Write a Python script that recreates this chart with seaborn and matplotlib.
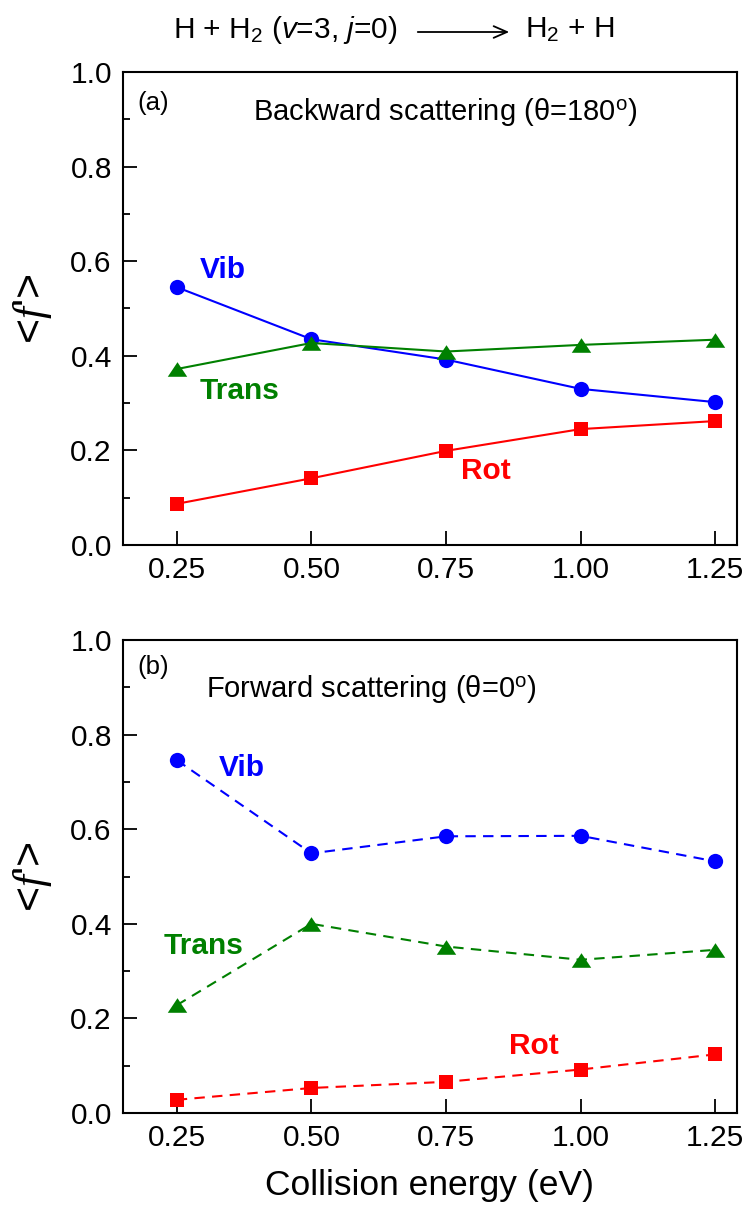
import numpy as np
import pandas as pd
import seaborn as sns
import matplotlib
matplotlib.use("Agg")
import matplotlib.pyplot as plt
from matplotlib.ticker import MultipleLocator

# Collision energies (eV)
energy = [0.25, 0.50, 0.75, 1.00, 1.25]

# (a) backward scattering, theta = 180 deg: average energy fractions <f'>
back_vib = [0.545, 0.435, 0.392, 0.330, 0.302]
back_trans = [0.372, 0.427, 0.409, 0.423, 0.434]
back_rot = [0.087, 0.141, 0.199, 0.245, 0.262]

# (b) forward scattering, theta = 0 deg
fwd_vib = [0.746, 0.549, 0.585, 0.586, 0.532]
fwd_trans = [0.228, 0.400, 0.352, 0.324, 0.345]
fwd_rot = [0.028, 0.053, 0.066, 0.092, 0.124]

xticks = [0.25, 0.50, 0.75, 1.00, 1.25]
xticklabels = ["0.25", "0.50", "0.75", "1.00", "1.25"]

sns.set_style("ticks")
plt.rcParams["font.family"] = ["Liberation Sans", "DejaVu Sans"]
plt.rcParams["mathtext.fontset"] = "custom"
plt.rcParams["mathtext.rm"] = "Liberation Sans"
plt.rcParams["mathtext.sf"] = "Liberation Sans:italic"
plt.rcParams["mathtext.it"] = "Liberation Serif:italic"
plt.rcParams["mathtext.bf"] = "Liberation Sans:bold"
for key in ("text.color", "axes.labelcolor", "xtick.color", "ytick.color",
            "axes.edgecolor"):
    plt.rcParams[key] = "black"

BLUE = "#0000ff"
GREEN = "#008000"
RED = "#ff0000"

tri = [(0, 0.75), (-1, -0.75), (1, -0.75), (0, 0.75)]

fig = plt.figure(figsize=(7.45, 12.13), dpi=100)
ax_a = fig.add_axes([0.165, 0.5507, 0.824, 0.390])
ax_b = fig.add_axes([0.165, 0.0824, 0.824, 0.390])


def draw_panel(ax, vib, trans, rot, ls):
    df = pd.DataFrame({"E": energy, "vib": vib, "trans": trans, "rot": rot})
    common = dict(ax=ax, linewidth=1.5, linestyle=ls, legend=False)
    sns.lineplot(data=df, x="E", y="vib", color=BLUE, marker="o",
                 markersize=11, markeredgewidth=0, **common)
    sns.lineplot(data=df, x="E", y="trans", color=GREEN, marker=tri,
                 markersize=14, markeredgewidth=0, **common)
    sns.lineplot(data=df, x="E", y="rot", color=RED, marker="s",
                 markersize=10.5, markeredgewidth=0, **common)
    for line in ax.get_lines():
        if ls == "--":
            line.set_dashes([5, 3.5])
    ax.set_xlim(0.15, 1.29)
    ax.set_ylim(0.0, 1.0)
    ax.set_xticks(xticks)
    ax.set_xticklabels(xticklabels)
    ax.set_yticks([0.0, 0.2, 0.4, 0.6, 0.8, 1.0])
    ax.set_yticklabels(["0.0", "0.2", "0.4", "0.6", "0.8", "1.0"])
    ax.yaxis.set_minor_locator(MultipleLocator(0.1))
    ax.tick_params(axis="both", which="major", direction="in", length=10,
                   width=1.3, labelsize=21.5, pad=8, top=False, right=False)
    ax.tick_params(axis="y", which="minor", direction="in", length=5,
                   width=1.3, right=False)
    for sp in ax.spines.values():
        sp.set_linewidth(1.5)
        sp.set_color("black")
    ax.set_xlabel("")
    ax.set_ylabel(r"<$\mathit{f}$'>", fontsize=31, labelpad=12)


draw_panel(ax_a, back_vib, back_trans, back_rot, "-")
draw_panel(ax_b, fwd_vib, fwd_trans, fwd_rot, "--")

label_kw = dict(fontsize=21.5, fontweight="bold", ha="center", va="center")

# Panel (a) annotations
ax_a.text(0.023, 0.935, "(a)", transform=ax_a.transAxes, fontsize=18.5,
          ha="left", va="center")
ax_a.text(0.524, 0.915, r"Backward scattering (θ=180$^{\rm o}$)",
          transform=ax_a.transAxes, fontsize=21, ha="center", va="center")
ax_a.text(0.336, 0.582, "Vib", color=BLUE, **label_kw)
ax_a.text(0.367, 0.326, "Trans", color=GREEN, **label_kw)
ax_a.text(0.824, 0.157, "Rot", color=RED, **label_kw)

# Panel (b) annotations
ax_b.text(0.023, 0.943, "(b)", transform=ax_b.transAxes, fontsize=18.5,
          ha="left", va="center")
ax_b.text(0.404, 0.896, r"Forward scattering (θ=0$^{\rm o}$)",
          transform=ax_b.transAxes, fontsize=21, ha="center", va="center")
ax_b.text(0.371, 0.730, "Vib", color=BLUE, **label_kw)
ax_b.text(0.300, 0.353, "Trans", color=GREEN, **label_kw)
ax_b.text(0.913, 0.142, "Rot", color=RED, **label_kw)

ax_b.set_xlabel("Collision energy (eV)", fontsize=25.5, labelpad=12)

# Reaction header
H = 1213.0
W = 745.0
fig.text(397 / W, 1 - 30 / H, r"H + H$_2$ ($\mathsf{v}$=3, $\mathsf{j}$=0)",
         fontsize=21.5, ha="right", va="center")
fig.text(525 / W, 1 - 30 / H, r"H$_2$ + H", fontsize=21.5, ha="left",
         va="center")
fig.add_artist(matplotlib.patches.FancyArrowPatch(
    (415 / W, 1 - 32 / H), (512 / W, 1 - 32 / H),
    transform=fig.transFigure, arrowstyle="->,head_length=0.8,head_width=0.35",
    lw=1.3, color="black", mutation_scale=12))

fig.savefig("out.png", dpi=100)
